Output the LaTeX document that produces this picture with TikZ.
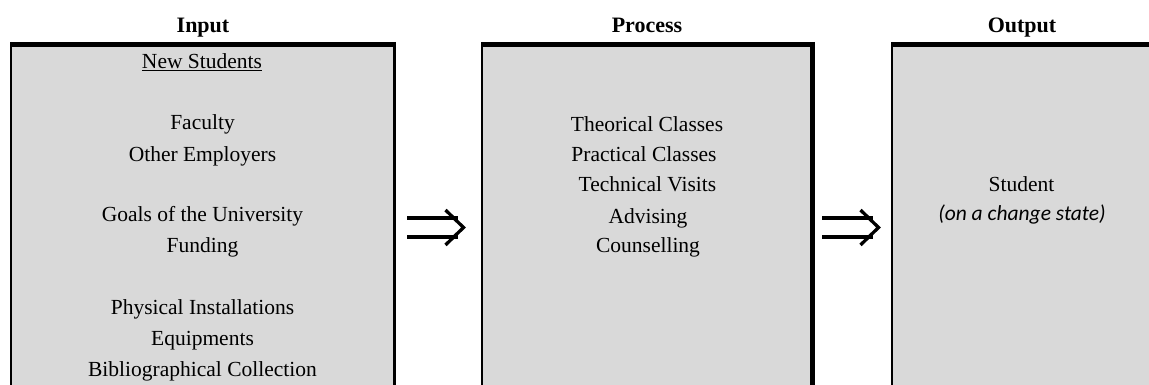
\documentclass[tikz,border=0pt]{standalone}
\usepackage{fontspec}
\setmainfont{Liberation Serif}
\newfontfamily\carlito{Carlito}
\definecolor{boxgray}{HTML}{D9D9D9}
\begin{document}
\begin{tikzpicture}[x=1pt,y=-1pt,
  txt/.style={anchor=base, inner sep=0pt, font=\fontsize{21.5}{26}\selectfont},
  ttl/.style={anchor=base, inner sep=0pt, font=\fontsize{22}{26}\selectfont\bfseries},
  panel/.style={anchor=north west, inner sep=0pt, fill=boxgray, draw=none, minimum height=360pt},
  topedge/.style={line width=5pt, line cap=butt},
  leftedge/.style={line width=2pt, line cap=butt},
  arrowline/.style={line width=3.3pt, line cap=butt, line join=miter}
]
\useasboundingbox (0,0) rectangle (1149,385);
\clip (0,0) rectangle (1149,385);

% panels
\node[panel, minimum width=385.5pt] (inbox) at (10,42) {};
\node[panel, minimum width=333.3pt] (probox) at (481,42) {};
\node[panel, minimum width=280pt] (outbox) at (891,42) {};

% borders
\draw[leftedge] ([xshift=1pt]inbox.north west) -- ([xshift=1pt]inbox.south west);
\draw[line width=3pt] ([xshift=-1.5pt]inbox.north east) -- ([xshift=-1.5pt]inbox.south east);
\draw[topedge] ([yshift=-2.5pt]inbox.north west) -- ([yshift=-2.5pt]inbox.north east);

\draw[leftedge] ([xshift=1pt]probox.north west) -- ([xshift=1pt]probox.south west);
\draw[line width=5pt] ([xshift=-2.5pt]probox.north east) -- ([xshift=-2.5pt]probox.south east);
\draw[topedge] ([yshift=-2.5pt]probox.north west) -- ([yshift=-2.5pt]probox.north east);

\draw[leftedge] ([xshift=1pt]outbox.north west) -- ([xshift=1pt]outbox.south west);
\draw[topedge] ([yshift=-2.5pt]outbox.north west) -- ([yshift=-2.5pt]outbox.north east);

% titles
\node[ttl] (tin) at (203,33) {Input};
\node[ttl] (tpro) at (647,33) {Process};
\node[ttl] (tout) at (1022,33) {Output};

% input texts
\node[txt] (in1) at (202,69) {\underline{New Students}};
\node[txt] (in2) at (202.5,130) {Faculty};
\node[txt] (in3) at (202.5,161) {Other Employers};
\node[txt] (in4) at (202.5,222) {Goals of the University};
\node[txt] (in5) at (202.5,252) {Funding};
\node[txt] (in6) at (202.5,314) {Physical Installations};
\node[txt] (in7) at (202.5,345) {Equipments};
\node[txt] (in8) at (202.5,376) {Bibliographical Collection};

% process texts
\node[txt] (pr1) at (647,132) {Theorical Classes};
\node[txt] (pr2) at (644,162) {Practical Classes};
\node[txt] (pr3) at (647.5,191) {Technical Visits};
\node[txt] (pr4) at (648,223) {Advising};
\node[txt] (pr5) at (648,252) {Counselling};

% output texts
\node[txt] (out1) at (1021.5,192) {Student};
\node[txt, font=\fontsize{21.5}{26}\carlito\itshape] (out2) at (1022,220) {(on a change state)};

% arrows
\coordinate (a1) at (407,227.5);
\coordinate (b1) at (463.5,227.5);
\coordinate (a2) at (822,227.5);
\coordinate (b2) at (878.5,227.5);
\foreach \s/\e in {a1/b1, a2/b2} {
  \draw[arrowline] ([yshift=9.5pt]\s) -- ([yshift=9.5pt,xshift=-6pt]\e);
  \draw[arrowline] ([yshift=-9.5pt]\s) -- ([yshift=-9.5pt,xshift=-6pt]\e);
  \draw[arrowline] ([xshift=-18pt,yshift=17.5pt]\e) -- (\e) -- ([xshift=-18pt,yshift=-17.5pt]\e);
}
\end{tikzpicture}
\end{document}
